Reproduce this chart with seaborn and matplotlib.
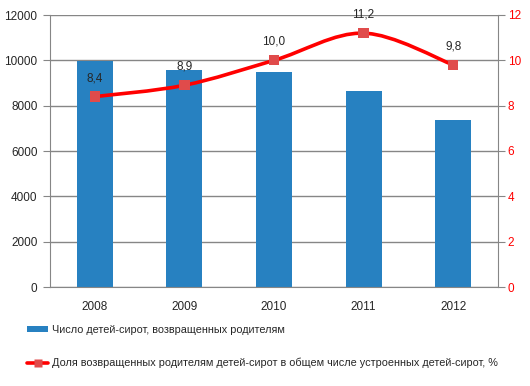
import matplotlib
matplotlib.use("Agg")
import matplotlib.pyplot as plt
from matplotlib.path import Path
from matplotlib.patches import PathPatch, Patch
from matplotlib.lines import Line2D
import numpy as np
import pandas as pd
import seaborn as sns

years = ['2008', '2009', '2010', '2011', '2012']
returned = [9980, 9570, 9500, 8660, 7370]
share = [8.4, 8.9, 10.0, 11.2, 9.8]
left_ticks = [0, 2000, 4000, 6000, 8000, 10000, 12000]
right_ticks = [0, 2, 4, 6, 8, 10, 12]
bar_label = 'Число детей-сирот, возвращенных родителям'
line_label = 'Доля возвращенных родителям детей-сирот в общем числе устроенных детей-сирот, %'

bar_color = '#2781C1'
line_color = '#FF0000'
marker_color = '#E04B4B'
axis_grey = '#868686'

sns.set_style('white')
plt.rcParams['font.family'] = ['Liberation Sans', 'DejaVu Sans']
plt.rcParams['font.size'] = 8

df = pd.DataFrame({'year': years, 'returned': returned})

fig = plt.figure(figsize=(5.3, 3.86), dpi=100)
ax = fig.add_axes([50 / 530, 1 - 287 / 386, 448 / 530, 272 / 386])

sns.barplot(data=df, x='year', y='returned', color=bar_color, width=0.4,
            saturation=1, linewidth=0, ax=ax, zorder=2)
ax.set_xlim(-0.5, len(years) - 0.5)
ax.set_ylim(0, 12000)
ax.set_yticks(left_ticks)
ax.set_xlabel('')
ax.set_ylabel('')
ax.yaxis.grid(True, color=axis_grey, lw=1)
ax.set_axisbelow(True)
for s in ['top', 'right']:
    ax.spines[s].set_visible(False)
for s in ['left', 'bottom']:
    ax.spines[s].set_color(axis_grey)
ax.tick_params(axis='x', length=0, pad=10, labelsize=8.5)
ax.set_xticks(np.arange(-0.5, len(years)), minor=True)
ax.tick_params(axis='x', which='minor', length=5, color=axis_grey, direction='out')
ax.tick_params(axis='y', length=5, color=axis_grey, direction='out', pad=4, labelsize=8.5)

ax2 = ax.twinx()
ax2.set_ylim(0, 12)
ax2.set_yticks(right_ticks)
ax2.tick_params(axis='y', length=5, color=axis_grey, labelcolor='red', pad=2, labelsize=8.5)
for s in ['top', 'left', 'bottom']:
    ax2.spines[s].set_visible(False)
ax2.spines['right'].set_color(axis_grey)

# smoothed line (Catmull-Rom as cubic Bezier) through the points
xs = np.arange(len(share), dtype=float)
ys = np.array(share)
pts = np.column_stack([xs, ys])
ext = np.vstack([pts[0], pts, pts[-1]])
verts = [pts[0]]
codes = [Path.MOVETO]
for i in range(len(pts) - 1):
    p0, p1, p2, p3 = ext[i], ext[i + 1], ext[i + 2], ext[i + 3]
    verts += [p1 + (p2 - p0) / 6, p2 - (p3 - p1) / 6, p2]
    codes += [Path.CURVE4] * 3
ax2.add_patch(PathPatch(Path(verts, codes), fill=False, edgecolor=line_color,
                        lw=2.6, zorder=3))
sns.scatterplot(x=xs, y=ys, marker='s', s=55, color=marker_color,
                edgecolor='none', ax=ax2, zorder=4)
for x, y in zip(xs, ys):
    ax2.annotate(f'{y:.1f}'.replace('.', ','), (x, y), xytext=(0, 9),
                 textcoords='offset points', ha='center', va='bottom', fontsize=8.5)

handles = [Patch(facecolor=bar_color, edgecolor='none'),
           Line2D([0], [0], color=line_color, lw=2.6, marker='s',
                  markersize=6, markerfacecolor=marker_color, markeredgecolor='none')]
leg = fig.legend(handles, [bar_label, line_label], loc='upper left',
                 bbox_to_anchor=(17 / 530, 1 - 315 / 386), frameon=False,
                 handlelength=2.0, handleheight=0.45, handletextpad=0.3,
                 labelspacing=2.1, fontsize=7.8)

fig.savefig('out.png', dpi=100)
